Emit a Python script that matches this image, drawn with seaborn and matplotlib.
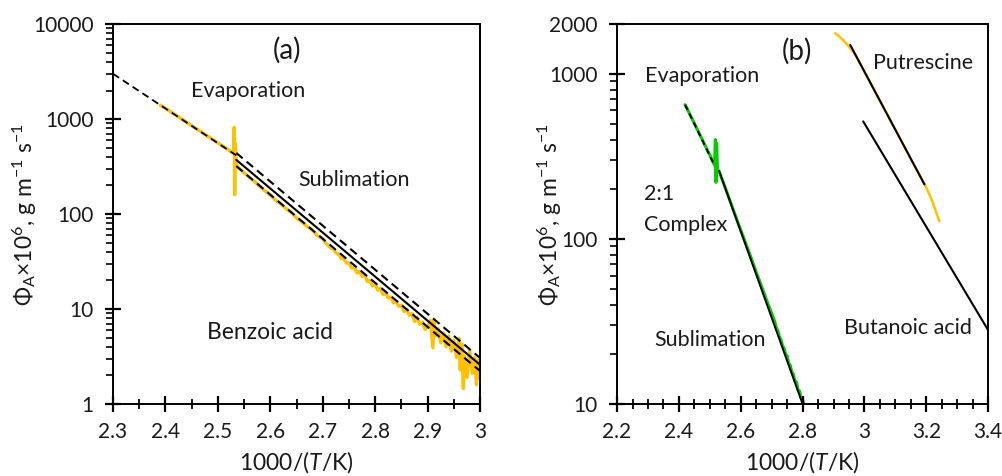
import matplotlib
matplotlib.use("Agg")
import matplotlib.pyplot as plt
import matplotlib.ticker as mticker
import pandas as pd
import seaborn as sns

# ---- panel (a): benzoic acid ----
evap_fit_a_x = [2.30, 2.535]
evap_fit_a_y = [3000, 415]
sub_fit_a_x = [2.535, 3.00]
sub_fit_a_y = [372, 2.58]
sub_hi_a_y = [440, 3.05]
sub_lo_a_y = [320, 2.22]

benzoic_x = [2.39, 2.40, 2.41, 2.42, 2.43, 2.44, 2.45, 2.46, 2.47, 2.48, 2.49, 2.50,
             2.51, 2.52, 2.53, 2.531, 2.532, 2.533, 2.535,
             2.54, 2.55, 2.56, 2.57, 2.58, 2.59, 2.60, 2.61, 2.62, 2.63, 2.64, 2.65,
             2.66, 2.67, 2.68, 2.69, 2.70, 2.705, 2.71, 2.715, 2.72, 2.725, 2.73,
             2.735, 2.74, 2.745, 2.75, 2.755, 2.76, 2.765, 2.77, 2.775, 2.78, 2.785,
             2.79, 2.795, 2.80, 2.805, 2.81, 2.815, 2.82, 2.825, 2.83, 2.835, 2.84,
             2.845, 2.85, 2.855, 2.86, 2.865, 2.87, 2.875, 2.88, 2.885, 2.89, 2.895,
             2.90, 2.905, 2.91, 2.912, 2.915, 2.92, 2.925, 2.93, 2.935, 2.94, 2.945,
             2.95, 2.955, 2.96, 2.962, 2.965, 2.968, 2.97, 2.975, 2.98, 2.985, 2.99,
             2.993, 2.996, 3.00]
benzoic_y = [1400, 1300, 1190, 1100, 1010, 930, 850, 785, 722, 664, 610, 561,
             516, 475, 437, 820, 160, 560, 340,
             305, 272, 242, 220, 196, 175, 158, 140, 128, 114, 104, 91,
             83, 74, 68, 59, 55, 50, 47, 44, 43, 39, 38,
             34, 34, 30.5, 30.5, 27, 27.5, 24, 25, 22, 23, 19.5,
             20, 17.5, 18, 15.8, 16.5, 14.2, 14.8, 13.0, 13.4, 11.6, 12.0,
             10.7, 11.0, 9.4, 9.9, 8.6, 9.0, 7.4, 8.2, 6.9, 7.3, 6.1,
             6.5, 7.6, 3.9, 7.8, 5.2, 6.2, 4.4, 5.6, 4.0, 5.2, 3.6,
             4.7, 3.1, 4.9, 2.3, 4.3, 1.45, 3.2, 1.9, 3.7, 2.1, 3.1,
             1.6, 2.9, 1.8]

# ---- panel (b): 2:1 complex, putrescine, butanoic acid ----
evap_fit_b_x = [2.42, 2.515]
evap_fit_b_y = [650, 279]
sub_fit_b_x = [2.53, 2.80]
sub_fit_b_y = [258, 10.0]

complex_x = [2.42, 2.44, 2.46, 2.48, 2.50, 2.515, 2.518, 2.52, 2.522, 2.525, 2.53,
             2.55, 2.57, 2.59, 2.61, 2.63, 2.65, 2.67, 2.69, 2.70, 2.705, 2.71,
             2.715, 2.72, 2.725, 2.73, 2.735, 2.74, 2.745, 2.75, 2.755, 2.76, 2.765,
             2.77, 2.775, 2.78, 2.785, 2.79, 2.795, 2.80, 2.805, 2.81, 2.815, 2.82]
complex_y = [650, 546, 458, 384, 322, 280, 400, 220, 380, 262, 257,
             204, 161, 127, 101, 80, 63, 50, 39.5, 35.5, 33.5, 31.5,
             29.0, 27.8, 25.5, 24.6, 22.5, 21.8, 20.0, 19.6, 17.6, 17.2, 15.6,
             15.2, 13.8, 13.6, 12.2, 12.0, 10.9, 10.7, 9.8, 9.6, 9.0, 8.6]

putrescine_x = [2.905, 2.915, 2.925, 2.935, 2.945, 2.955, 2.97, 3.00, 3.05, 3.10,
                3.15, 3.20, 3.22, 3.242]
putrescine_y = [1760, 1710, 1640, 1570, 1500, 1420, 1310, 1030, 687, 458,
                305, 205, 168, 128]
putrescine_fit_x = [2.954, 3.194]
putrescine_fit_y = [1496, 214]

butanoic_fit_x = [2.996, 3.40]
butanoic_fit_y = [515, 28]

ORANGE = "#FFC000"
GREEN = "#00CC00"
TEXT = "#1a1a1a"

sns.set_theme(style="ticks")
plt.rcParams["font.family"] = ["Lato", "DejaVu Sans"]
plt.rcParams["mathtext.fontset"] = "custom"
plt.rcParams["mathtext.rm"] = "Lato"
plt.rcParams["mathtext.it"] = "Lato:style=italic"
plt.rcParams["mathtext.default"] = "regular"


def line(ax, x, y, **kw):
    df = pd.DataFrame({"x": x, "y": y})
    sns.lineplot(data=df, x="x", y="y", sort=False, estimator=None, ax=ax, **kw)


def setup_axes(ax, xlim, xmajor, ylim, yticks):
    ax.set_yscale("log")
    ax.set_xlim(*xlim)
    ax.set_ylim(*ylim)
    ax.set_axisbelow(False)
    ax.xaxis.set_major_locator(mticker.MultipleLocator(xmajor))
    ax.xaxis.set_minor_locator(mticker.MultipleLocator(0.05))
    ax.xaxis.set_major_formatter(mticker.FuncFormatter(lambda v, p: f"{v:g}"))
    ax.yaxis.set_major_locator(mticker.FixedLocator(yticks))
    ax.yaxis.set_minor_locator(mticker.LogLocator(base=10, subs=range(2, 10)))
    ax.yaxis.set_major_formatter(mticker.FuncFormatter(lambda v, p: f"{v:g}"))
    ax.yaxis.set_minor_formatter(mticker.NullFormatter())
    ax.tick_params(which="major", direction="inout", length=12, width=1.6,
                   color="black", labelsize=15, labelcolor=TEXT)
    ax.tick_params(axis="x", which="minor", direction="inout", length=7, width=1.3,
                   color="black")
    ax.tick_params(axis="y", which="minor", direction="out", length=5, width=1.2,
                   color="black")
    ax.tick_params(axis="x", which="major", pad=7)
    ax.tick_params(axis="y", which="major", pad=8)


def finish_axes(ax, ylab_x):
    for s in ax.spines.values():
        s.set_visible(True)
        s.set_color("black")
        s.set_linewidth(1.4)
    ax.set_xlabel("1000/($\\mathit{T}$/K)", fontsize=16.5, labelpad=5, color=TEXT)
    ax.set_ylabel("$\\Phi_{A}$×10$^{6}$, g m$^{-1}$ s$^{-1}$", fontsize=16.5,
                  color=TEXT)
    ax.yaxis.set_label_coords(ylab_x, 0.5)


fig = plt.figure(figsize=(10.03, 4.76), dpi=100)
ax_a = fig.add_axes([0.1127, 0.1513, 0.366, 0.798])
ax_b = fig.add_axes([0.6152, 0.1513, 0.370, 0.798])
setup_axes(ax_a, (2.3, 3.0), 0.1, (1, 10000), [1, 10, 100, 1000, 10000])
setup_axes(ax_b, (2.2, 3.4), 0.2, (10, 2000), [10, 100, 1000, 2000])

# panel (a)
line(ax_a, benzoic_x, benzoic_y, color=ORANGE, lw=2.4)
line(ax_a, evap_fit_a_x, evap_fit_a_y, color="black", lw=1.3, linestyle=(0, (4, 2.5)))
line(ax_a, sub_fit_a_x, sub_fit_a_y, color="black", lw=1.5)
line(ax_a, sub_fit_a_x, sub_hi_a_y, color="black", lw=1.5, linestyle=(0, (4, 2.5)))
line(ax_a, sub_fit_a_x, sub_lo_a_y, color="black", lw=1.5, linestyle=(0, (4, 2.5)))
ax_a.set_xlim(2.3, 3.0)
ax_a.set_ylim(1, 10000)
finish_axes(ax_a, -0.203)
ax_a.text(2.632, 5320, "(a)", fontsize=20, ha="center", va="center", color=TEXT)
ax_a.text(2.558, 1960, "Evaporation", fontsize=15.5, ha="center", va="center", color=TEXT)
ax_a.text(2.76, 228, "Sublimation", fontsize=15.5, ha="center", va="center", color=TEXT)
ax_a.text(2.60, 5.7, "Benzoic acid", fontsize=16.5, ha="center", va="center", color=TEXT)

# panel (b)
line(ax_b, complex_x, complex_y, color=GREEN, lw=2.2)
line(ax_b, putrescine_x, putrescine_y, color=ORANGE, lw=1.8)
line(ax_b, evap_fit_b_x, evap_fit_b_y, color="black", lw=1.4, linestyle=(0, (3, 2)))
line(ax_b, sub_fit_b_x, sub_fit_b_y, color="black", lw=1.4)
line(ax_b, putrescine_fit_x, putrescine_fit_y, color="black", lw=1.5)
line(ax_b, butanoic_fit_x, butanoic_fit_y, color="black", lw=1.5)
ax_b.set_xlim(2.2, 3.4)
ax_b.set_ylim(10, 2000)
finish_axes(ax_b, -0.143)
ax_b.text(2.783, 1360, "(b)", fontsize=20, ha="center", va="center", color=TEXT)
ax_b.text(2.475, 973, "Evaporation", fontsize=15.5, ha="center", va="center", color=TEXT)
ax_b.text(3.028, 1165, "Putrescine", fontsize=15.5, ha="left", va="center", color=TEXT)
ax_b.text(2.287, 187, "2:1", fontsize=15.5, ha="left", va="center", color=TEXT)
ax_b.text(2.287, 121, "Complex", fontsize=15.5, ha="left", va="center", color=TEXT)
ax_b.text(2.50, 24.3, "Sublimation", fontsize=15.5, ha="center", va="center", color=TEXT)
ax_b.text(3.14, 28.7, "Butanoic acid", fontsize=15.5, ha="center", va="center", color=TEXT)

fig.savefig("out.png", dpi=100)
